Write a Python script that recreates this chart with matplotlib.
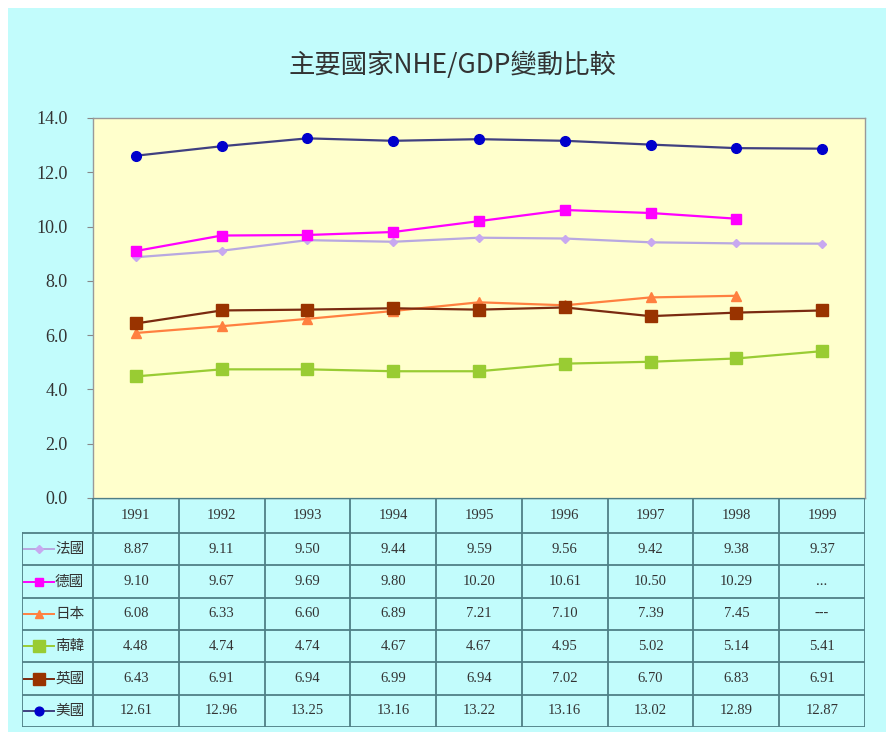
import numpy as np
import matplotlib.pyplot as plt
from matplotlib.lines import Line2D
from matplotlib.patches import Rectangle

years = ["1991", "1992", "1993", "1994", "1995", "1996", "1997", "1998", "1999"]
countries = ["法國", "德國", "日本", "南韓", "英國", "美國"]

france = [8.87, 9.11, 9.50, 9.44, 9.59, 9.56, 9.42, 9.38, 9.37]
germany = [9.10, 9.67, 9.69, 9.80, 10.20, 10.61, 10.50, 10.29, None]
japan = [6.08, 6.33, 6.60, 6.89, 7.21, 7.10, 7.39, 7.45, None]
korea = [4.48, 4.74, 4.74, 4.67, 4.67, 4.95, 5.02, 5.14, 5.41]
uk = [6.43, 6.91, 6.94, 6.99, 6.94, 7.02, 6.70, 6.83, 6.91]
usa = [12.61, 12.96, 13.25, 13.16, 13.22, 13.16, 13.02, 12.89, 12.87]
missing_text = {"德國": "...", "日本": "---"}

series = [france, germany, japan, korea, uk, usa]
# line color, marker color, marker, marker size
styles = [
    ("#B8A8E0", "#C8A8F0", "D", 4),
    ("#FF00FF", "#FF00FF", "s", 7),
    ("#FF8040", "#FF8040", "^", 7),
    ("#99CC33", "#99CC33", "s", 9),
    ("#7A2A10", "#993300", "s", 9),
    ("#404080", "#0000CC", "o", 7),
]

W, H = 887, 732
cyan = "#C2FCFC"
fig = plt.figure(figsize=(W / 100, H / 100), dpi=100, facecolor="white")
fig.patches.append(Rectangle((8 / W, 0), 1, (H - 8) / H, transform=fig.transFigure,
                             facecolor=cyan, edgecolor="none", zorder=-10))

num_font = "Liberation Serif"
cjk = ["Noto Sans CJK TC", "DejaVu Sans"]

# main plot
ax = fig.add_axes([93 / W, (H - 498) / H, 772 / W, 380 / H])
ax.set_facecolor("#FFFFCC")
x = np.arange(len(years))
for vals, (lc, mc, mk, ms) in zip(series, styles):
    y = np.array([np.nan if v is None else v for v in vals])
    ax.plot(x, y, color=lc, lw=1.6, marker=mk, markersize=ms,
            markerfacecolor=mc, markeredgecolor=mc)
ax.set_xlim(-0.5, len(years) - 0.5)
ax.set_ylim(0, 14)
ax.set_yticks(np.arange(0, 14.1, 2))
ax.set_yticklabels([f"{t:.1f}" for t in np.arange(0, 14.1, 2)],
                   fontfamily=num_font, fontsize=13, color="#333333")
ax.set_xticks([])
ax.tick_params(axis="y", length=4, color="#888888", pad=14)
for s in ax.spines.values():
    s.set_color("#999999")
    s.set_linewidth(1)

fig.text(452 / W, 1 - 65 / H, "主要國家NHE/GDP變動比較", family=cjk,
         fontsize=19, color="#333333", ha="center", va="center")

# data table below the plot
col_w = 772 / len(years)
lab_w = 71
tab = fig.add_axes([22 / W, (H - 727) / H, (772 + lab_w) / W, 229 / H])
tab.set_xlim(-0.5 - lab_w / col_w, len(years) - 0.5)
tab.set_ylim(229, 0)
tab.axis("off")
head_h = 35
row_h = (229 - head_h) / len(countries)
grid_c = "#4F7F86"
x_left = -0.5 - lab_w / col_w
x_right = len(years) - 0.5

# horizontal lines
tab.plot([-0.5, x_right], [0, 0], color=grid_c, lw=1)
for i in range(len(countries) + 1):
    yy = head_h + i * row_h
    tab.plot([x_left, x_right], [yy, yy], color=grid_c, lw=1.3)
# vertical lines
for j in range(len(years) + 1):
    xx = -0.5 + j
    tab.plot([xx, xx], [0, 229], color=grid_c, lw=1.3)
tab.plot([x_left, x_left], [head_h, 229], color=grid_c, lw=1.3)

for j, yr in enumerate(years):
    tab.text(j, head_h / 2, yr, ha="center", va="center",
             fontfamily=num_font, fontsize=10.5, color="#333333")

for i, (name, vals, (lc, mc, mk, ms)) in enumerate(zip(countries, series, styles)):
    yc = head_h + (i + 0.5) * row_h
    lx0 = x_left + 2 / col_w
    lx1 = x_left + 32 / col_w
    tab.add_line(Line2D([lx0, lx1], [yc, yc], color=lc, lw=1.4))
    tab.add_line(Line2D([(lx0 + lx1) / 2], [yc], marker=mk, markersize=ms * 0.9,
                        color=mc, markeredgecolor=mc))
    tab.text(x_left + 33 / col_w, yc, name, ha="left", va="center",
             family=cjk, fontsize=10.5, color="#333333")
    for j, v in enumerate(vals):
        txt = missing_text[name] if v is None else f"{v:.2f}"
        tab.text(j, yc, txt, ha="center", va="center",
                 fontfamily=num_font, fontsize=10.5, color="#333333")

fig.savefig("out.png", dpi=100, facecolor=fig.get_facecolor())
